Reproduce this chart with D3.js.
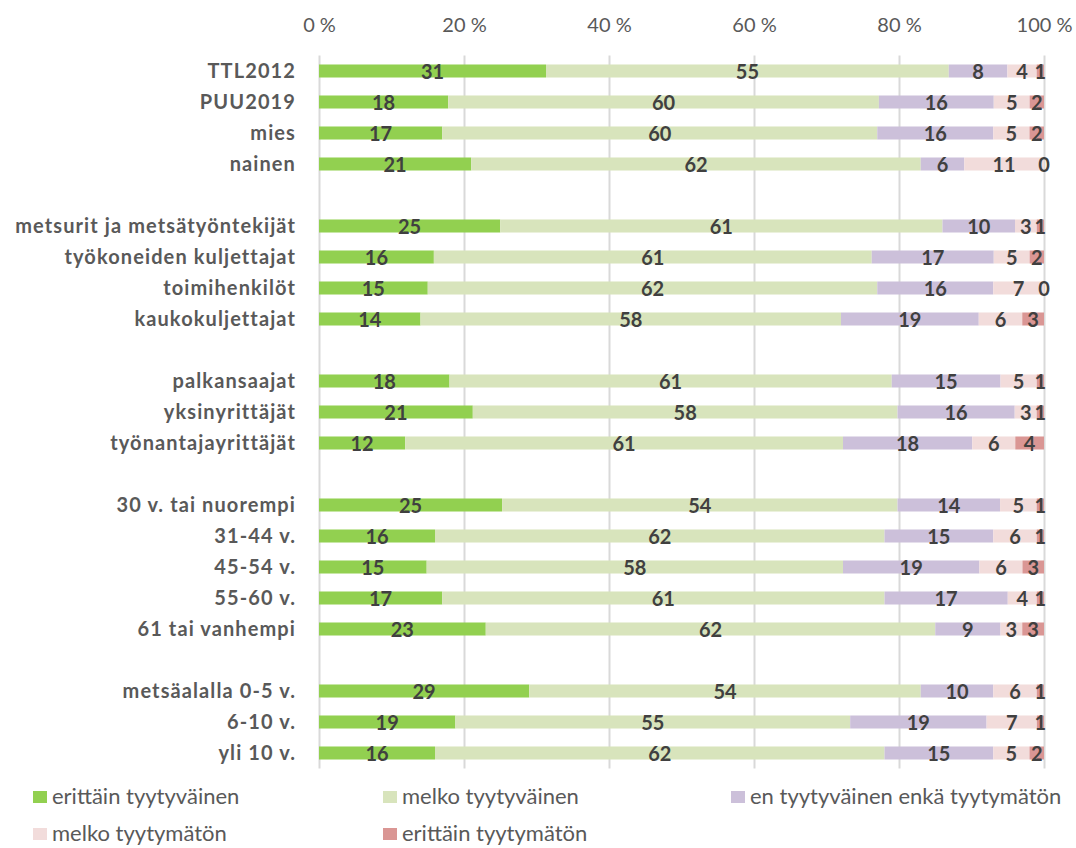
<!DOCTYPE html>
<html>
<head>
<meta charset="utf-8">
<script src="https://cdn.jsdelivr.net/npm/d3@7"></script>
<style>
  body { margin: 0; background: #fff; }
  svg { display: block; }
</style>
</head>
<body>
<svg id="chart" width="1076" height="848"></svg>
<script>
// rows of the chart, null = empty gap row
const categories = ["TTL2012", "PUU2019", "mies", "nainen", null,
    "metsurit ja metsätyöntekijät", "työkoneiden kuljettajat", "toimihenkilöt", "kaukokuljettajat", null,
    "palkansaajat", "yksinyrittäjät", "työnantajayrittäjät", null,
    "30 v. tai nuorempi", "31-44 v.", "45-54 v.", "55-60 v.", "61 tai vanhempi", null,
    "metsäalalla 0-5 v.", "6-10 v.", "yli 10 v."];

const seriesNames = ["erittäin tyytyväinen", "melko tyytyväinen", "en tyytyväinen enkä tyytymätön",
    "melko tyytymätön", "erittäin tyytymätön"];

const erittainTyytyvainen = [31, 18, 17, 21, null, 25, 16, 15, 14, null, 18, 21, 12, null, 25, 16, 15, 17, 23, null, 29, 19, 16];
const melkoTyytyvainen    = [55, 60, 60, 62, null, 61, 61, 62, 58, null, 61, 58, 61, null, 54, 62, 58, 61, 62, null, 54, 55, 62];
const enTyytyvainen       = [8, 16, 16, 6, null, 10, 17, 16, 19, null, 15, 16, 18, null, 14, 15, 19, 17, 9, null, 10, 19, 15];
const melkoTyytymaton     = [4, 5, 5, 11, null, 3, 5, 7, 6, null, 5, 3, 6, null, 5, 6, 6, 4, 3, null, 6, 7, 5];
const erittainTyytymaton  = [1, 2, 2, 0, null, 1, 2, 0, 3, null, 1, 1, 4, null, 1, 1, 3, 1, 3, null, 1, 1, 2];

const tickValues = [0, 0.2, 0.4, 0.6, 0.8, 1];

const colors = ["#92d050", "#d8e4bc", "#ccc0da", "#f2dcdb", "#da9694"];

let allSeries = [erittainTyytyvainen, melkoTyytyvainen, enTyytyvainen, melkoTyytymaton, erittainTyytymaton];

// build the table for d3.stack
let rows = [];
for (let i = 0; i < categories.length; i++) {
    if (categories[i] === null) continue;
    let row = {idx: i, name: categories[i]};
    seriesNames.forEach((s, j) => row[s] = allSeries[j][i]);
    rows.push(row);
}

let svg = d3.select("#chart");
let fontLabel = "Lato, 'Open Sans', sans-serif";

let x = d3.scaleLinear().domain([0, 1]).range([319, 1044]);
let y = d3.scaleBand()
    .domain(d3.range(categories.length))
    .range([55.5, 768.5])
    .paddingInner(0.58)
    .paddingOuter(0.29);

let color = d3.scaleOrdinal().domain(seriesNames).range(colors);

// gridlines
let grid = svg.append("g")
    .attr("transform", "translate(0," + y.range()[0] + ")")
    .call(d3.axisBottom(x).tickValues(tickValues).tickSize(y.range()[1] - y.range()[0]).tickFormat(""));
grid.select(".domain").remove();
grid.selectAll("line").attr("stroke", "#d9d9d9").attr("stroke-width", 2);

// top axis labels
let topAxis = svg.append("g")
    .attr("transform", "translate(0,32)")
    .call(d3.axisTop(x).tickValues(tickValues).tickSize(0).tickPadding(0)
        .tickFormat(d => Math.round(d * 100) + " %"));
topAxis.select(".domain").remove();
topAxis.selectAll("text")
    .attr("fill", "#595959")
    .style("font-family", fontLabel)
    .style("font-size", "20px");

// stacked bars
let stack = d3.stack().keys(seriesNames).offset(d3.stackOffsetExpand);
let layers = stack(rows);

let layerG = svg.append("g").selectAll("g")
    .data(layers)
    .join("g")
    .attr("fill", d => color(d.key));

layerG.selectAll("rect")
    .data(d => d)
    .join("rect")
    .attr("x", d => x(d[0]))
    .attr("y", d => y(d.data.idx))
    .attr("width", d => x(d[1]) - x(d[0]))
    .attr("height", y.bandwidth());

// value labels
let labelG = svg.append("g");
layers.forEach(layer => {
    labelG.append("g").selectAll("text")
        .data(layer)
        .join("text")
        .attr("x", d => (x(d[0]) + x(d[1])) / 2)
        .attr("y", d => y(d.data.idx) + y.bandwidth() / 2)
        .attr("dy", "0.4em")
        .attr("text-anchor", "middle")
        .attr("fill", "#404040")
        .style("font-family", fontLabel)
        .style("font-weight", "bold")
        .style("font-size", "20px")
        .text(d => d.data[layer.key]);
});

// category labels
svg.append("g").selectAll("text")
    .data(rows)
    .join("text")
    .attr("x", 296)
    .attr("y", d => y(d.idx) + y.bandwidth() / 2)
    .attr("dy", "0.36em")
    .attr("text-anchor", "end")
    .attr("fill", "#595959")
    .style("font-family", fontLabel)
    .style("font-weight", "bold")
    .style("font-size", "20px")
    .style("letter-spacing", "1.1px")
    .text(d => d.name);

// legend
let legendPos = [[33, 797], [383, 797], [731, 797], [33, 834], [383, 834]];
let legend = svg.append("g").selectAll("g")
    .data(seriesNames)
    .join("g")
    .attr("transform", (d, i) => "translate(" + legendPos[i][0] + "," + legendPos[i][1] + ")");
legend.append("rect")
    .attr("x", 0).attr("y", -6)
    .attr("width", 14).attr("height", 12)
    .attr("fill", d => color(d));
legend.append("text")
    .attr("x", 19)
    .attr("dy", "0.3em")
    .attr("fill", "#595959")
    .style("font-family", fontLabel)
    .style("font-size", "22px")
    .text(d => d);
</script>
</body>
</html>
